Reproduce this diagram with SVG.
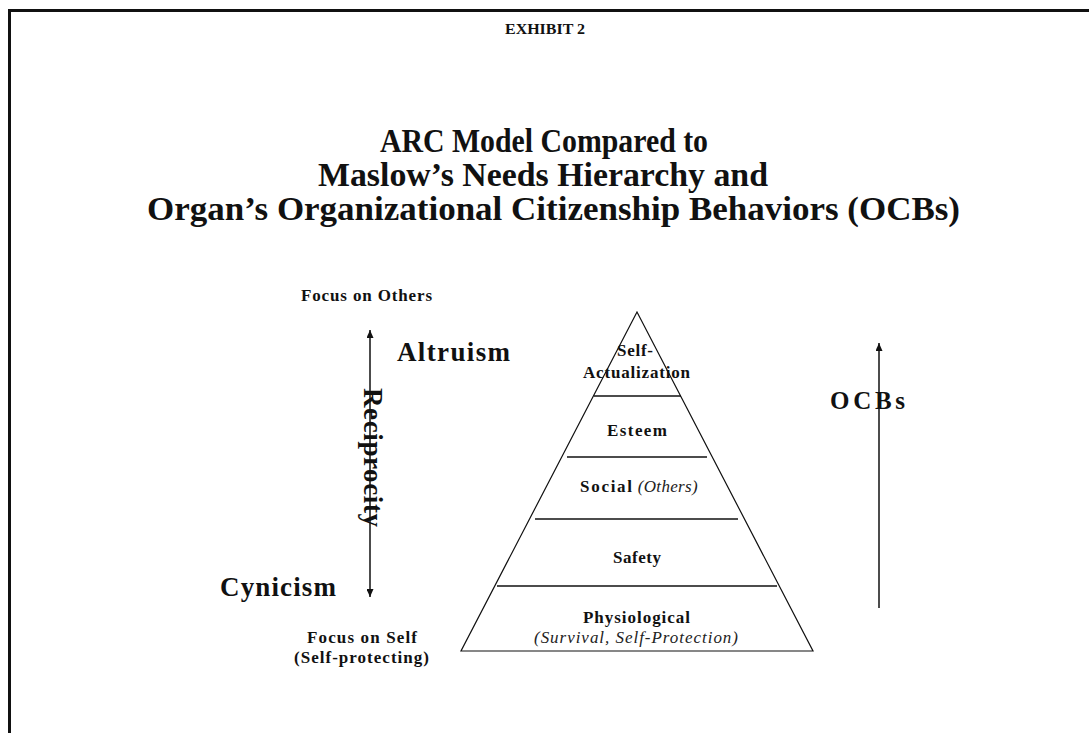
<svg xmlns="http://www.w3.org/2000/svg" width="1089" height="733" viewBox="0 0 1089 733">
<style>
.b{font-family:"Liberation Serif",serif;font-weight:bold;fill:#111}
.i{font-family:"Liberation Serif",serif;font-style:italic;font-weight:normal;fill:#222}
.t{font-size:33px}
.big{font-size:27px}
.sm{font-size:17px}
.lv{font-size:17px}
.ln{stroke:#111;fill:none}
</style>
<defs>
<marker id="ah" viewBox="0 0 8 7" refX="8" refY="3.5" markerWidth="8" markerHeight="7" markerUnits="userSpaceOnUse" orient="auto-start-reverse">
<path d="M0,0 L8,3.5 L0,7 z" fill="#111"/>
</marker>
</defs>
<rect width="1089" height="733" fill="#fff"/>
<g id="frame">
<path d="M9.5,733 V10.5 H1089" class="ln" stroke-width="3"/>
</g>
<g id="header">
<text class="b" x="505" y="34" font-size="15" textLength="80" lengthAdjust="spacingAndGlyphs">EXHIBIT 2</text>
<text class="b t" x="380" y="152" textLength="328" lengthAdjust="spacingAndGlyphs">ARC Model Compared to</text>
<text class="b t" x="318" y="186" textLength="450" lengthAdjust="spacingAndGlyphs">Maslow’s Needs Hierarchy and</text>
<text class="b t" x="147" y="220" textLength="813" lengthAdjust="spacingAndGlyphs">Organ’s Organizational Citizenship Behaviors (OCBs)</text>
</g>
<g id="connectors">
<line id="arc-arrow" x1="370" y1="597" x2="370" y2="330" class="ln" stroke-width="1.5" marker-start="url(#ah)" marker-end="url(#ah)"/>
<line id="ocb-arrow" x1="879" y1="608" x2="879" y2="343" class="ln" stroke-width="1.5" marker-end="url(#ah)"/>
</g>
<g id="focus-others">
<text class="b sm" x="301" y="301" textLength="131" lengthAdjust="spacing">Focus on Others</text>
</g>
<g id="altruism">
<text class="b big" x="397" y="361" textLength="113" lengthAdjust="spacing">Altruism</text>
</g>
<g id="reciprocity">
<text class="b" font-size="27" transform="translate(364,388) rotate(90)" x="0" y="0" textLength="139" lengthAdjust="spacing">Reciprocity</text>
</g>
<g id="cynicism">
<text class="b big" x="220" y="596" textLength="116" lengthAdjust="spacing">Cynicism</text>
</g>
<g id="focus-self">
<text class="b sm" x="307" y="643" textLength="110" lengthAdjust="spacing">Focus on Self</text>
<text class="b sm" x="294" y="663" textLength="135" lengthAdjust="spacing">(Self-protecting)</text>
</g>
<g id="pyramid">
<path d="M637,312 L461,651 L813,651 Z" class="ln" stroke-width="1.2"/>
<line x1="594" y1="396" x2="681" y2="396" class="ln" stroke-width="1.6" stroke="#333"/>
<line x1="567" y1="457" x2="707" y2="457" class="ln" stroke-width="1.6" stroke="#333"/>
<line x1="535" y1="519" x2="738" y2="519" class="ln" stroke-width="1.6" stroke="#333"/>
<line x1="497" y1="586" x2="777" y2="586" class="ln" stroke-width="1.6" stroke="#333"/>
</g>
<g id="self-actualization">
<text class="b lv" x="617" y="356" textLength="36" lengthAdjust="spacing">Self-</text>
<text class="b lv" x="583" y="378" textLength="107" lengthAdjust="spacing">Actualization</text>
</g>
<g id="esteem">
<text class="b lv" x="607" y="436" textLength="60" lengthAdjust="spacing">Esteem</text>
</g>
<g id="social">
<text x="580" y="492"><tspan class="b lv" textLength="52" lengthAdjust="spacing">Social</tspan><tspan class="i" font-size="17" dx="4" textLength="60" lengthAdjust="spacing">(Others)</tspan></text>
</g>
<g id="safety">
<text class="b lv" x="613" y="563" textLength="48" lengthAdjust="spacing">Safety</text>
</g>
<g id="physiological">
<text class="b lv" x="583" y="623" textLength="107" lengthAdjust="spacing">Physiological</text>
<text class="i" font-size="17" x="534" y="643" textLength="204" lengthAdjust="spacing">(Survival, Self-Protection)</text>
</g>
<g id="ocbs">
<text class="b" font-size="25" x="830" y="409" textLength="75" lengthAdjust="spacing">OCBs</text>
</g>
</svg>
